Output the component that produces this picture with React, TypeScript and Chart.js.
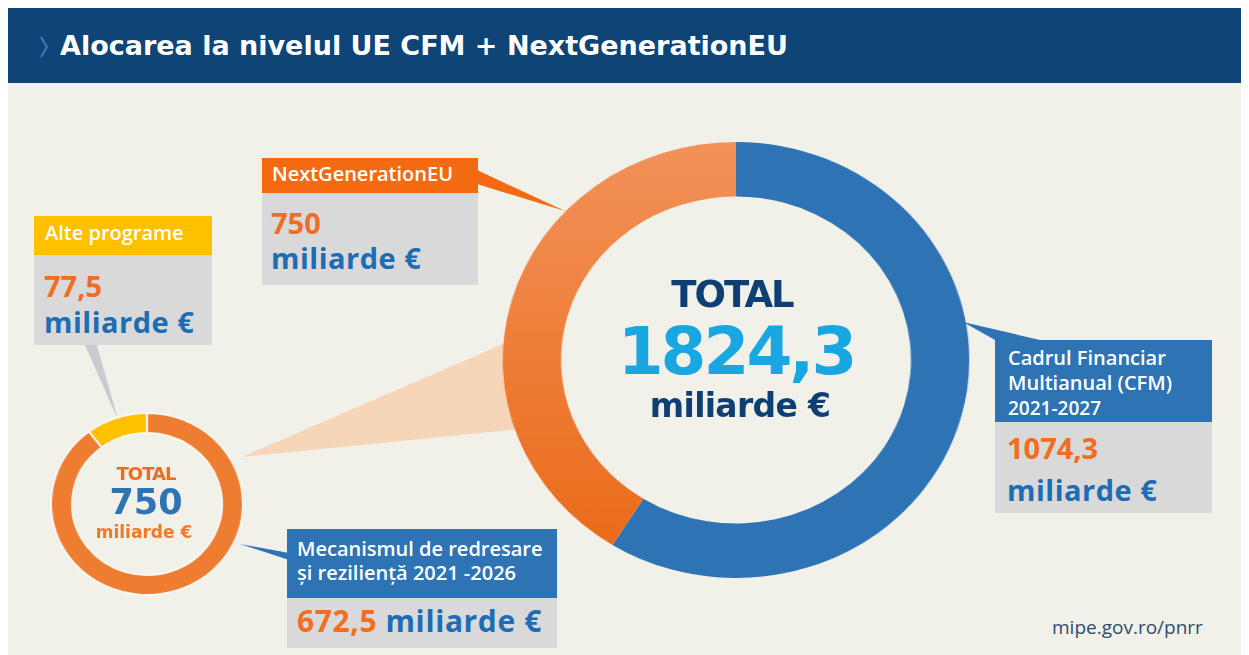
import React, { useEffect, useRef } from "react";
import { Chart, registerables } from "chart.js";

Chart.register(...registerables);

// ---------- data ----------
const mainLabels = ["Cadrul Financiar Multianual (CFM) 2021-2027", "NextGenerationEU"];
const mainValues = [1074.3, 750];
const ngLabels = ["Mecanismul de redresare și reziliență 2021-2026", "Alte programe"];
const ngValues = [672.5, 77.5];

const fmt = (v: number) => (Number.isInteger(v) ? String(v) : v.toFixed(1).replace(".", ","));
const mainTotal = mainValues.reduce((a, b) => a + b, 0);
const ngTotal = ngValues.reduce((a, b) => a + b, 0);

// ---------- colours ----------
const BG = "#f1f0e9";
const NAVY_BAR = "#0f4576";
const BLUE = "#2e74b5";
const ORANGE_BOX = "#f36a12";
const YELLOW = "#ffc000";
const SMALL_ORANGE = "#ee7d31";
const GREY = "#d9d9d9";
const NUM_ORANGE = "#f26d21";
const TXT_BLUE = "#1d6cb4";
const NAVY_TXT = "#0d3f73";
const CYAN = "#19a7e2";

const OPEN = "'Open Sans', sans-serif";
const DEJA = "'DejaVu Sans', sans-serif";

type DProps = {
  labels: string[];
  values: number[];
  bg: any;
  size: number;
  cutout: string;
  borderWidth: number;
  borderColor: string;
  style: React.CSSProperties;
};

function Doughnut({ labels, values, bg, size, cutout, borderWidth, borderColor, style }: DProps) {
  const ref = useRef<HTMLCanvasElement | null>(null);
  useEffect(() => {
    if (!ref.current) return;
    const chart = new Chart(ref.current, {
      type: "doughnut",
      data: {
        labels,
        datasets: [
          {
            data: values,
            backgroundColor: bg,
            borderWidth,
            borderColor,
          },
        ],
      },
      options: {
        responsive: false,
        animation: false,
        cutout,
        events: [],
        layout: { padding: 0 },
        plugins: { legend: { display: false }, tooltip: { enabled: false } },
      },
    });
    return () => chart.destroy();
  }, []);
  return (
    <canvas
      ref={ref}
      width={size}
      height={size}
      style={{ position: "absolute", width: size, height: size, ...style }}
    />
  );
}

// text helper: y = baseline
function T({
  x,
  y,
  size,
  color,
  family,
  weight = 700,
  center = false,
  ls = 0,
  children,
}: {
  x: number;
  y: number;
  size: number;
  color: string;
  family: string;
  weight?: number;
  center?: boolean;
  ls?: number;
  children: React.ReactNode;
}) {
  const k = family === OPEN ? 0.888 : 0.846;
  return (
    <div
      style={{
        position: "absolute",
        left: x,
        top: y - k * size,
        fontFamily: family,
        fontWeight: weight,
        fontSize: size,
        lineHeight: 1,
        color,
        whiteSpace: "nowrap",
        letterSpacing: ls,
        transform: center ? "translateX(-50%)" : undefined,
        zIndex: 4,
      }}
    >
      {children}
    </div>
  );
}

function Box({ x, y, w, h, color }: { x: number; y: number; w: number; h: number; color: string }) {
  return <div style={{ position: "absolute", left: x, top: y, width: w, height: h, background: color, zIndex: 3 }} />;
}

const mainBg = (c: any) => {
  if (c.dataIndex === 0) return BLUE;
  const area = c.chart.chartArea;
  if (!area) return "#ef7d37";
  const g = c.chart.ctx.createLinearGradient(0, area.top, 0, area.bottom);
  g.addColorStop(0, "#f2925a");
  g.addColorStop(1, "#ea6814");
  return g;
};

export default function App() {
  return (
    <div
      style={{
        position: "relative",
        width: 1236,
        height: 647,
        background: BG,
        overflow: "hidden",
      }}
    >
      {/* header */}
      <div style={{ position: "absolute", left: 0, top: 0, width: 1236, height: 75, background: NAVY_BAR }} />
      <svg width={1236} height={647} style={{ position: "absolute", left: 0, top: 0, zIndex: 1 }}>
        <polyline points="33,29 39,39 33,49" fill="none" stroke="#2f7fc8" strokeWidth={2} />
        {/* zoom wedge */}
        <polygon points="234,449 532,320 532,419" fill="#f6d5b8" />
        {/* pointers */}
        <polygon points="469,162 469,176 557,203" fill={ORANGE_BOX} />
        <polygon points="77,337 89,337 110,412" fill="#c9cbcf" />
        <polygon points="232,536 281,545 281,552" fill={BLUE} />
        <polygon points="955,314 987,332 1032,332" fill={BLUE} />
      </svg>
      <T x={52} y={47} size={27} color="#ffffff" family={DEJA}>
        Alocarea la nivelul UE CFM + NextGenerationEU
      </T>

      {/* charts */}
      <Doughnut
        labels={mainLabels}
        values={mainValues}
        bg={mainBg}
        size={436}
        cutout="75%"
        borderWidth={0}
        borderColor={BG}
        style={{ left: 510, top: 134, transform: "scaleX(1.07)", zIndex: 2 }}
      />
      <Doughnut
        labels={ngLabels}
        values={ngValues}
        bg={[SMALL_ORANGE, YELLOW]}
        size={184}
        cutout="78%"
        borderWidth={2}
        borderColor="#f7f6f0"
        style={{ left: 47, top: 404, transform: "scaleX(1.055)", zIndex: 2 }}
      />

      {/* big center */}
      <T x={724} y={299} size={37} color={NAVY_TXT} family={DEJA} center ls={-2}>
        TOTAL
      </T>
      <T x={728} y={367} size={66} color={CYAN} family={DEJA} center ls={-3}>
        {fmt(mainTotal)}
      </T>
      <T x={732} y={409} size={33} color={NAVY_TXT} family={DEJA} center ls={-0.7}>
        miliarde €
      </T>

      {/* small center */}
      <T x={138} y={472} size={18} color="#ef6c1d" family={DEJA} center ls={-1}>
        TOTAL
      </T>
      <T x={138} y={507} size={35} color={BLUE} family={DEJA} center>
        {fmt(ngTotal)}
      </T>
      <T x={136} y={530} size={17} color="#ef7a2a" family={DEJA} center>
        miliarde €
      </T>

      {/* NextGenerationEU box */}
      <Box x={254} y={150} w={216} h={35} color={ORANGE_BOX} />
      <Box x={254} y={185} w={216} h={92} color={GREY} />
      <T x={264} y={174} size={20} color="#ffffff" family={OPEN} weight={600}>
        {mainLabels[1]}
      </T>
      <T x={263} y={226} size={29} color={NUM_ORANGE} family={OPEN}>
        {fmt(mainValues[1])}
      </T>
      <T x={263} y={261} size={29} color={TXT_BLUE} family={OPEN} ls={0.5}>
        miliarde €
      </T>

      {/* Alte programe box */}
      <Box x={26} y={208} w={178} h={39} color={YELLOW} />
      <Box x={26} y={247} w={178} h={90} color={GREY} />
      <T x={37} y={233} size={20} color="#ffffff" family={OPEN} weight={600}>
        {ngLabels[1]}
      </T>
      <T x={36} y={289} size={29} color={NUM_ORANGE} family={OPEN}>
        {fmt(ngValues[1])}
      </T>
      <T x={36} y={325} size={29} color={TXT_BLUE} family={OPEN} ls={0.5}>
        miliarde €
      </T>

      {/* Mecanismul box */}
      <Box x={279} y={521} w={270} h={69} color={BLUE} />
      <Box x={279} y={590} w={270} h={50} color={GREY} />
      <T x={289} y={549} size={20} color="#ffffff" family={OPEN} weight={600}>
        Mecanismul de redresare
      </T>
      <T x={289} y={573} size={20} color="#ffffff" family={OPEN} weight={600}>
        și reziliență 2021 -2026
      </T>
      <T x={289} y={625} size={30} color={TXT_BLUE} family={OPEN} ls={0.6}>
        <span style={{ color: NUM_ORANGE }}>{fmt(ngValues[0])}</span> miliarde €
      </T>

      {/* CFM box */}
      <Box x={987} y={332} w={217} h={82} color={BLUE} />
      <Box x={987} y={414} w={217} h={91} color={GREY} />
      <T x={1000} y={358} size={20} color="#ffffff" family={OPEN} weight={600}>
        Cadrul Financiar
      </T>
      <T x={1000} y={383} size={20} color="#ffffff" family={OPEN} weight={600}>
        Multianual (CFM)
      </T>
      <T x={1000} y={408} size={19} color="#ffffff" family={OPEN} weight={600}>
        2021-2027
      </T>
      <T x={999} y={451} size={29} color={NUM_ORANGE} family={OPEN}>
        {fmt(mainValues[0])}
      </T>
      <T x={999} y={493} size={29} color={TXT_BLUE} family={OPEN} ls={0.5}>
        miliarde €
      </T>

      <T x={1044} y={627} size={19} color="#2f4d6b" family={OPEN} weight={400}>
        mipe.gov.ro/pnrr
      </T>
    </div>
  );
}
